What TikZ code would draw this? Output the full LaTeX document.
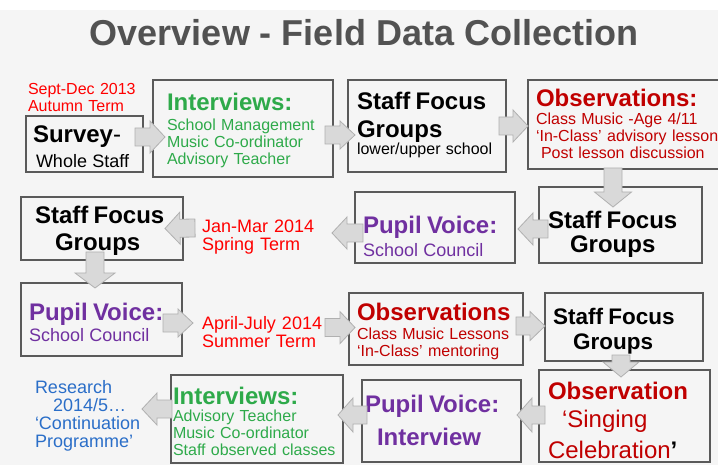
\documentclass[tikz,border=0pt]{standalone}
\usepackage{fontspec}
\setmainfont{Liberation Sans}
\usetikzlibrary{calc}
\definecolor{bgcol}{HTML}{F5F5F5}
\definecolor{boxgrey}{HTML}{5A5A5A}
\definecolor{titlegrey}{HTML}{525252}
\definecolor{arrowfill}{HTML}{D9D9D9}
\definecolor{arrowedge}{HTML}{B0B0B0}
\definecolor{intgreen}{HTML}{2EAA4A}
\definecolor{voicepurple}{HTML}{7030A0}
\definecolor{obsred}{HTML}{C00000}
\definecolor{termred}{HTML}{FF0000}
\definecolor{resblue}{HTML}{2A6EC8}

\newcommand{\titlefont}{\fontsize{36}{40}\selectfont\bfseries}
\newcommand{\headfont}{\fontsize{24}{28}\selectfont\bfseries}
\newcommand{\lgfont}{\fontsize{24}{28}\selectfont}
\newcommand{\midfont}{\fontsize{18}{18}\selectfont}
\newcommand{\subfont}{\fontsize{16}{17}\selectfont}
\lineskiplimit=-100pt

% block arrow from tail #2 to tip #3, #1 = half width of the head
\newcommand{\barrow}[3][16]{%
  \coordinate (bt) at (#2);
  \coordinate (bp) at (#3);
  \coordinate (bh) at ($(bp)!15pt!(bt)$);
  \draw[barrow] ($(bt)!9pt!90:(bp)$) -- ($(bh)!9pt!90:(bp)$)
    -- ($(bh)!#1pt!90:(bp)$) -- (bp) -- ($(bh)!#1pt!-90:(bp)$)
    -- ($(bh)!9pt!-90:(bp)$) -- ($(bt)!9pt!-90:(bp)$) -- cycle;}

\begin{document}
\begin{tikzpicture}
[x=1pt, y=-1pt,
 box/.style={draw=boxgrey, line width=1.6pt, outer sep=0pt, inner ysep=0pt,
   anchor=north west, align=left, font=\subfont},
 term/.style={anchor=base west, inner sep=0pt, outer sep=0pt, align=left,
   text width=125pt},
 barrow/.style={fill=arrowfill, draw=arrowedge, line width=0.8pt}]

\useasboundingbox (0,0) rectangle (718,465);
\clip (0,0) rectangle (718,465);

% Background and title:
\fill[white] (0,0) rectangle (718,10);
\fill[bgcol] (0,10) rectangle (718,465);
\node[font=\titlefont, text=titlegrey, anchor=base] (title) at (364,46)
  {Overview - Field Data Collection};

% Autumn term:
\node[term, text=termred, font=\subfont] (autumn) at (28,94.2)
  {Sept-Dec 2013\\Autumn Term};
\node[box, inner xsep=7pt, text width=103pt, text height=27pt, text depth=29pt]
  (survey) at (26,116)
  {{\headfont Survey}{\lgfont -}\\[5pt]\hspace*{3pt}{\midfont Whole Staff}};
\node[box, text=intgreen, inner xsep=14pt, text width=152pt, text height=31pt,
  text depth=66pt] (int1) at (153,80)
  {{\headfont Interviews:}\\[3pt]School Management\\Music Co-ordinator\\Advisory Teacher};
\node[box, inner xsep=9pt, text width=140pt, text height=30pt, text depth=62pt]
  (sfg1) at (348,80)
  {{\headfont Staff Focus}\\[10.5pt]{\headfont Groups}\\[0.5pt]lower/upper school};
\node[box, text=obsred, inner xsep=8pt, text width=191pt, text height=26.5pt,
  text depth=62.5pt] (obs1) at (528,80)
  {{\headfont Observations:}\\[1.5pt]Class Music -Age 4/11\\‘In-Class’ advisory lesson\\
   \hspace*{5pt}Post lesson discussion};

% Spring term:
\node[box, inner xsep=9pt, text width=145pt, text height=42pt, text depth=34pt]
  (sfg2) at (539,187)
  {{\headfont Staff Focus}\\[6.5pt]\hspace*{22pt}{\headfont Groups}};
\node[box, text=voicepurple, inner xsep=8pt, text width=144pt, text height=42pt,
  text depth=29pt] (pv1) at (355,192)
  {{\headfont Pupil Voice:}\\[3.5pt]{\midfont School Council}};
\node[term, text=termred, font=\midfont] (spring) at (202,233)
  {Jan-Mar 2014\\Spring Term};
\node[box, inner xsep=14pt, text width=134pt, text height=27pt, text depth=36pt]
  (sfg3) at (21,197)
  {{\headfont Staff Focus}\\[9.7pt]\hspace*{20pt}{\headfont Groups}};

% Summer term:
\node[box, text=voicepurple, inner xsep=8pt, text width=145pt, text height=37.7pt,
  text depth=35.3pt] (pv2) at (21,283)
  {{\headfont Pupil Voice:}\\[2pt]{\midfont School Council}};
\node[term, text=termred, font=\midfont] (summer) at (202,329.6)
  {April-July 2014\\Summer Term};
\node[box, text=obsred, inner xsep=8pt, text width=158pt, text height=27.7pt,
  text depth=44.3pt] (obs2) at (349,293)
  {{\headfont Observations}\\[2pt]Class Music Lessons\\‘In-Class’ mentoring};
\node[box, inner xsep=8pt, text width=142pt, text height=31.4pt, text depth=36.6pt]
  (sfg4) at (545,293)
  {{\fontsize{22.5}{26}\selectfont\bfseries Staff Focus}\\[8pt]
   \hspace*{20pt}{\fontsize{22.5}{26}\selectfont\bfseries Groups}};
\node[box, text=obsred, inner xsep=9pt, text width=153pt, text height=29pt,
  text depth=63pt] (obs3) at (539,370)
  {{\headfont Observation}\\[9.5pt]\hspace*{14pt}{\lgfont ‘Singing}\\[8pt]
   {\lgfont Celebration}{\headfont\color{black}’}};
\node[box, text=voicepurple, inner xsep=3pt, text width=153pt, text height=32.4pt,
  text depth=49.6pt] (pvi) at (362,380)
  {{\headfont Pupil Voice:}\\[9.7pt]\hspace*{12pt}{\headfont Interview}};
\node[box, text=intgreen, inner xsep=2pt, text width=168pt, text height=29pt,
  text depth=59pt] (int2) at (171,375)
  {{\headfont Interviews:}\\[0.5pt]Advisory Teacher\\Music Co-ordinator\\Staff observed classes};
\node[term, text=resblue, font=\fontsize{18}{18.3}\selectfont, text width=110pt]
  (research) at (35,393)
  {Research\\\hspace*{18pt}2014/5…\\‘Continuation\\Programme’};

% Block arrows:
\barrow{$(survey.east)+(-8,-7)$}{$(int1.west)+(12,8.5)$}
\barrow[14]{$(int1.east)+(-8,6.5)$}{$(sfg1.west)+(7,9)$}
\barrow{$(sfg1.east)+(-7,0)$}{$(obs1.west)+(0,1.5)$}
\barrow[18.5]{$(sfg2.north)+(-7.5,-19)$}{$(sfg2.north)+(-7.5,20)$}
\barrow{$(sfg2.west)+(9,4)$}{$(pv1.east)+(3,1.5)$}
\barrow{$(pv1.west)+(8,5.5)$}{$(spring.base east)+(5,0)$}
\barrow{$(spring.base west)+(-7,-5)$}{$(sfg3.east)+(-18,0)$}
\barrow[20]{$(sfg3.south)+(-7,-8)$}{$(pv2.north)+(-6.5,5)$}
\barrow[14]{$(pv2.east)+(-19,3.5)$}{$(summer.base west)+(-9,-6.6)$}
\barrow{$(summer.base east)+(-2,-2)$}{$(obs2.west)+(6,-1.5)$}
\barrow[14.5]{$(obs2.east)+(-7,-3)$}{$(sfg4.west)+(0,-1)$}
\barrow[18]{$(sfg4.south)+(-3,-6)$}{$(obs3.north)+(-3.5,7)$}
\barrow[17]{$(obs3.west)+(6,-1)$}{$(pvi.east)+(-4,-6)$}
\barrow[17]{$(pvi.west)+(5,-6)$}{$(int2.east)+(-5,-4)$}
\barrow{$(int2.west)+(1,-10)$}{$(research.base east)+(-3,16)$}

\end{tikzpicture}
\end{document}
